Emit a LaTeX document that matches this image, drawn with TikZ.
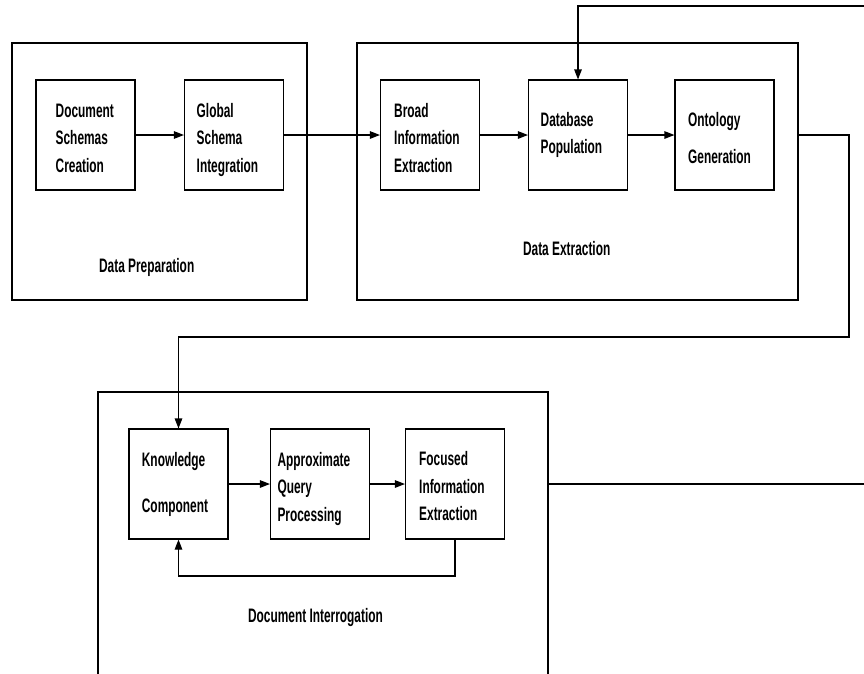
\documentclass[tikz,border=0pt]{standalone}
\usepackage{fontspec}
\newfontfamily\lblfont{Liberation Sans}[FakeStretch=0.61]
\usetikzlibrary{arrows.meta}
\begin{document}
\begin{tikzpicture}[x=1pt,y=-1pt,
  grp/.style={draw, line width=1.1pt, inner sep=0pt},
  blk/.style={draw, line width=1.1pt, inner sep=0pt, minimum width=99pt, minimum height=110pt},
  txt/.style={font=\lblfont\bfseries\fontsize{19.5}{27.6}\selectfont, inner sep=0pt, anchor=base west, align=left, text width=110pt},
  ttl/.style={font=\lblfont\bfseries\fontsize{19.5}{27.6}\selectfont, inner sep=0pt, anchor=base},
  con/.style={line width=1.1pt},
  arr/.style={con, -{Triangle[length=10pt,width=7.5pt]}}]
\useasboundingbox (0,0) rectangle (864,673);
\fill[white] (0,0) rectangle (864,673);
\clip (0,0) rectangle (864,673);
% group boxes
\node[grp, minimum width=295pt, minimum height=257pt] (prep) at (159.5,171.5) {};
\node[grp, minimum width=441pt, minimum height=257pt] (extr) at (577.5,171.5) {};
\node[grp, minimum width=450pt, minimum height=320pt] (intr) at (323,552) {};
% process boxes
\node[blk] (dsc) at (85.5,135) {};
\node[blk] (gsi) at (234,135) {};
\node[blk] (bie) at (430,135) {};
\node[blk] (dbp) at (578,135) {};
\node[blk] (ont) at (724.5,135) {};
\node[blk] (kc) at (178.5,484) {};
\node[blk] (aqp) at (320,484) {};
\node[blk] (fie) at (455,484) {};
% texts
\node[txt] (dsct) at (55.5,117.3) {Document\\Schemas\\Creation};
\node[txt] (gsit) at (196.5,117.3) {Global\\Schema\\Integration};
\node[txt] (biet) at (394,117) {Broad\\Information\\Extraction};
\node[txt] (dbpt) at (540.5,126) {Database\\Population};
\node[txt] (ontt) at (688,126) {Ontology\\[9.4pt]Generation};
\node[txt] (kct) at (141.7,466) {Knowledge\\[19pt]Component};
\node[txt] (aqpt) at (277.3,466) {Approximate\\Query\\Processing};
\node[txt] (fiet) at (419,465.5) {Focused\\Information\\Extraction};
\node[ttl] (prept) at (146.7,272.3) {Data Preparation};
\node[ttl] (extrt) at (566.7,255) {Data Extraction};
\node[ttl] (intrt) at (315.5,622.3) {Document Interrogation};
% free ends
\coordinate (fbin) at (870,6);
\coordinate (out) at (870,484);
% connectors
\draw[arr] (dsc) -- (gsi);
\draw[arr] (gsi) -- (bie);
\draw[arr] (bie) -- (dbp);
\draw[arr] (dbp) -- (ont);
\draw[arr] (fbin) -- (dbp.north |- fbin) -- (dbp.north);
\draw[arr] (extr.east |- ont.east) -- (849,135) -- (849,337) -- (kc.north |- 0,337) -- (kc.north);
\draw[arr] (kc) -- (aqp);
\draw[arr] (aqp) -- (fie);
\draw[arr] (fie.south) -- (fie.south |- 0,576) -- (kc.south |- 0,576) -- (kc.south);
\draw[con] (intr.east |- fie.east) -- (out);
\end{tikzpicture}
\end{document}
